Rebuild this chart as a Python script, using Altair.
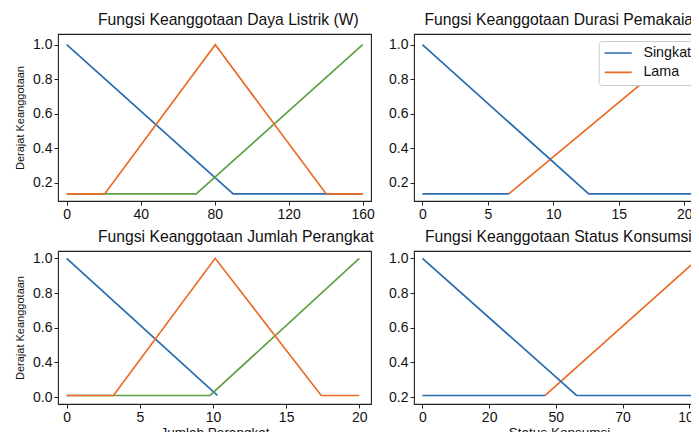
import altair as alt
import pandas as pd

FONT = "Liberation Sans"

# ---------- Panel 1: Daya Listrik (W) ----------
daya_rendah_x = [0, 90, 160]
daya_rendah_y = [1.0, 0.135, 0.135]
daya_tinggi_x = [0, 70, 160]
daya_tinggi_y = [0.135, 0.135, 1.0]
daya_sedang_x = [0, 20.5, 80.3, 140.3, 160]
daya_sedang_y = [0.135, 0.135, 1.0, 0.135, 0.135]
daya_xticks = [0, 40, 80, 120, 160]
daya_xlabels = ["0", "40", "80", "120", "160"]

# ---------- Panel 2: Durasi Pemakaian ----------
durasi_singkat_x = [0, 12.7, 20.8]
durasi_singkat_y = [1.0, 0.135, 0.135]
durasi_singkat_dasar_x = [0, 6.6]
durasi_singkat_dasar_y = [0.135, 0.135]
durasi_lama_x = [6.6, 20.3, 20.8]
durasi_lama_y = [0.135, 1.0, 1.0]
durasi_xticks = [0, 5, 10, 15, 20]
durasi_xlabels = ["0", "5", "10", "15", "20"]

# ---------- Panel 3: Jumlah Perangkat ----------
jumlah_sedikit_x = [0, 10.3]
jumlah_sedikit_y = [1.0, 0.21]
jumlah_banyak_x = [0, 9.8, 20]
jumlah_banyak_y = [0.21, 0.21, 1.0]
jumlah_sedang_x = [0, 3.2, 10.15, 17.4, 20]
jumlah_sedang_y = [0.21, 0.21, 1.0, 0.21, 0.21]
jumlah_xticks = [0, 5, 10, 15, 20]
jumlah_xlabels = ["0", "5", "10", "15", "20"]

# ---------- Panel 4: Status Konsumsi ----------
status_hemat_x = [0, 57.75, 103.5]
status_hemat_y = [1.0, 0.21, 0.21]
status_hemat_dasar_x = [0, 46]
status_hemat_dasar_y = [0.21, 0.21]
status_boros_x = [46, 103.5]
status_boros_y = [0.21, 1.0]
status_xticks = [0, 25, 50, 75, 100]
status_xlabels = ["0", "20", "50", "70", "100"]

# ---------- y ticks ----------
y_ticks = [0.2, 0.4, 0.6, 0.8, 1.0]
y_labels_atas = ["0.2", "0.4", "0.6", "0.8", "1.0"]
y_labels_jumlah = ["0.0", "0.4", "0.6", "0.8", "1.0"]
y_labels_status = ["0.2", "0.4", "0.6", "0.8", "1.0"]

BLUE = "#2b6cb0"
ORANGE = "#ea6b26"
GREEN = "#5fa043"


def build_df(parts):
    rows = []
    for name, seg, xs, ys in parts:
        for x, y in zip(xs, ys):
            rows.append({"x": x, "y": y, "seri": name, "seg": seg})
    return pd.DataFrame(rows)


def label_expr(vals, labels):
    v = "[" + ",".join(repr(a) for a in vals) + "]"
    l = "[" + ",".join('"' + s + '"' for s in labels) + "]"
    return f"{l}[indexof({v}, datum.value)]"


def panel(df, title, dx, xdom, ydom, xticks, xlabels, ylabels, cdom, crange,
          w, h, xtitle=None, ytitle=None, legend=None):
    xaxis = alt.Axis(values=xticks, labelExpr=label_expr(xticks, xlabels),
                     title=xtitle)
    yaxis = alt.Axis(values=y_ticks, labelExpr=label_expr(y_ticks, ylabels),
                     title=ytitle)
    return alt.Chart(df).mark_line(strokeWidth=1.7, clip=True).encode(
        x=alt.X("x:Q", scale=alt.Scale(domain=xdom, nice=False, zero=False), axis=xaxis),
        y=alt.Y("y:Q", scale=alt.Scale(domain=ydom, nice=False, zero=False), axis=yaxis),
        color=alt.Color("seri:N", scale=alt.Scale(domain=cdom, range=crange),
                        legend=legend, sort=cdom),
        detail="seg:N",
    ).properties(
        width=w, height=h,
        title=alt.TitleParams(title, anchor="start", frame="group", dx=dx,
                              offset=5, fontSize=15.7, fontWeight="normal",
                              font=FONT, color="#111"),
    )


df1 = build_df([
    ("Rendah", "a", daya_rendah_x, daya_rendah_y),
    ("Tinggi", "b", daya_tinggi_x, daya_tinggi_y),
    ("Sedang", "c", daya_sedang_x, daya_sedang_y),
])
df2 = build_df([
    ("Lama", "b", durasi_lama_x, durasi_lama_y),
    ("Singkat", "a", durasi_singkat_x, durasi_singkat_y),
    ("Singkat", "a2", durasi_singkat_dasar_x, durasi_singkat_dasar_y),
])
df3 = build_df([
    ("Sedikit", "a", jumlah_sedikit_x, jumlah_sedikit_y),
    ("Banyak", "b", jumlah_banyak_x, jumlah_banyak_y),
    ("Sedang", "c", jumlah_sedang_x, jumlah_sedang_y),
])
df4 = build_df([
    ("Boros", "b", status_boros_x, status_boros_y),
    ("Hemat", "a", status_hemat_x, status_hemat_y),
    ("Hemat", "a2", status_hemat_dasar_x, status_hemat_dasar_y),
])

TOP_Y = [0.094, 1.062]
BOT_Y = [0.161, 1.042]

legend_durasi = alt.Legend(
    title=None, orient="none", legendX=184.7, legendY=7, symbolType="stroke",
    symbolSize=729, symbolStrokeWidth=1.7, labelFontSize=14.3, labelFont=FONT,
    labelColor="#111", labelOffset=10.7, rowPadding=4.3, padding=5,
    clipHeight=14,
    fillColor="white", strokeColor="#cccccc", cornerRadius=3,
    values=["Singkat", "Lama"],
)

p1 = panel(df1, "Fungsi Keanggotaan Daya Listrik (W)", 40, [-4.7, 164.5], TOP_Y,
           daya_xticks, daya_xlabels, y_labels_atas,
           ["Rendah", "Sedang", "Tinggi"], [BLUE, ORANGE, GREEN], 313, 167,
           ytitle="Derajat Keanggotaan")
p2 = panel(df2, "Fungsi Keanggotaan Durasi Pemakaian", 10.5, [-0.64, 21.5], TOP_Y,
           durasi_xticks, durasi_xlabels, y_labels_atas,
           ["Singkat", "Lama"], [BLUE, ORANGE], 290, 167, legend=legend_durasi)
p3 = panel(df3, "Fungsi Keanggotaan Jumlah Perangkat", 40, [-0.59, 20.8], BOT_Y,
           jumlah_xticks, jumlah_xlabels, y_labels_jumlah,
           ["Sedikit", "Sedang", "Banyak"], [BLUE, ORANGE, GREEN], 313, 153,
           xtitle="Jumlah Perangkat", ytitle="Derajat Keanggotaan")
p4 = panel(df4, "Fungsi Keanggotaan Status Konsumsi", 11, [-3.15, 105.5], BOT_Y,
           status_xticks, status_xlabels, y_labels_status,
           ["Hemat", "Boros"], [BLUE, ORANGE], 290, 153,
           xtitle="Status Konsumsi")

chart = alt.concat(
    p1, p2, p3, p4, columns=2, bounds="flush",
    spacing=alt.RowColnumber(row=50, column=43),
).resolve_scale(
    color="independent"
).properties(
    padding={"left": 5, "top": 3, "right": -14, "bottom": 0},
    background="white",
).configure_view(
    stroke="#222", strokeWidth=1.1,
).configure_axis(
    domain=False, grid=False, tickColor="#222", tickSize=4, tickWidth=1,
    labelFont=FONT, labelFontSize=14, labelColor="#111", labelPadding=2,
    titleFont=FONT, titleFontWeight="normal", titleColor="#111",
).configure_axisY(
    titleFontSize=11, titlePadding=7,
).configure_axisX(
    titleFontSize=13.5, titlePadding=1, labelFlush=False,
)

chart.save("out.html", embed_options={"renderer": "svg", "actions": False})
